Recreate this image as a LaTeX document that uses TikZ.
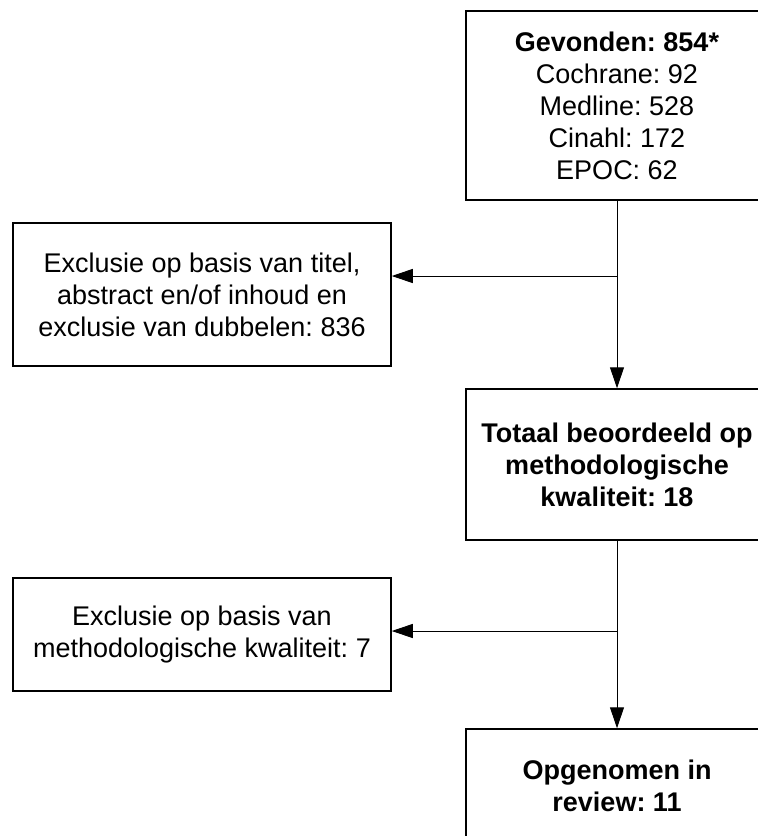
\documentclass[tikz,border=0pt]{standalone}
\usepackage{fontspec}
\setmainfont{Liberation Sans}
\usetikzlibrary{arrows.meta}
\frenchspacing
\begin{document}
\begin{tikzpicture}[x=1pt,y=-1pt,
  box/.style={draw=black,line width=1.5pt,rectangle,inner sep=0pt,align=center,
    font=\fontsize{27}{32}\selectfont},
  conn/.style={draw=black,line width=1pt},
  arr/.style={conn,-{Triangle[length=21pt,width=14pt]}}]
\useasboundingbox (0,0) rectangle (758,836);
\node[box,minimum width=302pt,minimum height=189pt] (found) at (617,105.5)
  {\textbf{Gevonden: 854*}\\Cochrane: 92\\Medline: 528\\Cinahl: 172\\EPOC: 62};
\node[box,minimum width=378pt,minimum height=143pt] (excl1) at (202,294.5)
  {Exclusie op basis van titel,\\abstract en/of inhoud en\\exclusie van dubbelen: 836};
\node[box,minimum width=302pt,minimum height=151pt] (total) at (617,464.5)
  {\textbf{Totaal beoordeeld op}\\\textbf{methodologische}\\\textbf{kwaliteit: 18}};
\node[box,minimum width=378pt,minimum height=113pt] (excl2) at (202,634.5)
  {Exclusie op basis van\\methodologische kwaliteit: 7};
\node[box,minimum width=302pt,minimum height=114pt] (incl) at (617,786)
  {\textbf{Opgenomen in}\\\textbf{review: 11}};
\coordinate (b1) at (617,276);
\coordinate (b2) at (617,631);
\draw[arr] (found.south) -- (total.north);
\draw[arr] (b1) -- (excl1.east |- b1);
\draw[arr] (total.south) -- (incl.north);
\draw[arr] (b2) -- (excl2.east |- b2);
\end{tikzpicture}
\end{document}
